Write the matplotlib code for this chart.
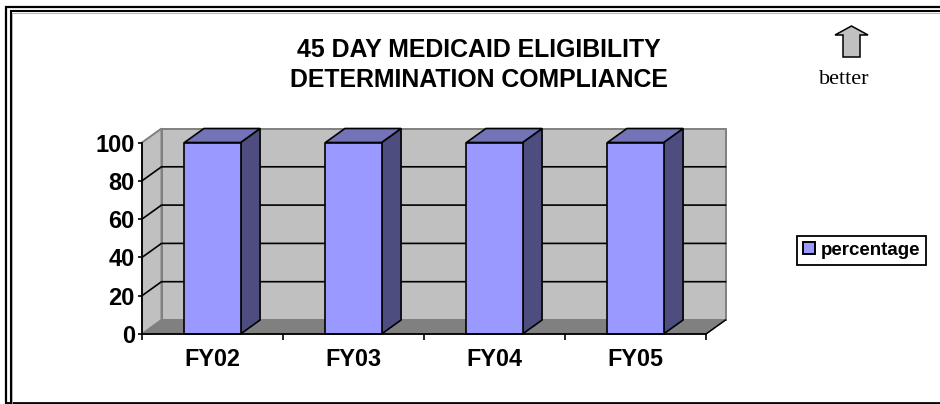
import matplotlib
matplotlib.use("Agg")
import matplotlib.pyplot as plt
from matplotlib.patches import Polygon, Patch
from matplotlib.lines import Line2D

categories = ["FY02", "FY03", "FY04", "FY05"]
percentage = [100, 100, 100, 100]
yticks = [0, 20, 40, 60, 80, 100]
series_name = "percentage"
title = "45 DAY MEDICAID ELIGIBILITY\nDETERMINATION COMPLIANCE"

W, H = 940, 404
plt.rcParams["font.family"] = ["Liberation Sans", "DejaVu Sans"]
fig = plt.figure(figsize=(W / 100, H / 100), dpi=100, facecolor="white")

# page layer in pixel coordinates (decorations)
bg = fig.add_axes([0, 0, 1, 1], zorder=0)
bg.set_xlim(0, W); bg.set_ylim(H, 0); bg.axis("off")
for xs, ys, lw in [
    ([6, 6, 940], [403, 6.5, 6.5], 1.6),
    ([10.5, 10.5, 940], [403, 11, 11], 1.5),
    ([6, 940], [403, 403], 2.0),
]:
    bg.add_line(Line2D(xs, ys, color="black", lw=lw, solid_joinstyle="miter"))
bg.add_line(Line2D([12.3, 12.3, 940], [403, 12.6, 12.6], color="#a8a8a8", lw=0.6))
bg.add_patch(Polygon([(851.5, 26), (868, 35), (860, 35), (860, 57), (843, 57), (843, 35), (835, 35)],
                     closed=True, fc="#c0c0c0", ec="black", lw=1.1))
bg.text(844.5, 80, "better", family="Liberation Serif", fontsize=16, ha="center", va="center")
bg.text(478.5, 65, title, fontsize=17.95, fontweight="bold", ha="center", va="center",
        linespacing=1.29)

# chart
L, R, B, T = 142, 706, 334, 142.5
ax = fig.add_axes([L / W, 1 - B / H, (R - L) / W, (B - T) / H], zorder=1)
ax.set_xlim(-0.5, len(categories) - 0.5)
ax.set_ylim(0, 100)
ax.patch.set_visible(False)
for s in ("top", "right"):
    ax.spines[s].set_visible(False)
for s in ("left", "bottom"):
    ax.spines[s].set_linewidth(1.3)
    ax.spines[s].set_zorder(6)

dx = 19.5 / ((R - L) / len(categories))   # depth in category units
dy = 14 * 100 / (B - T)                   # depth in value units
x0, x1 = -0.5, len(categories) - 0.5
kw = dict(closed=True, clip_on=False)
# walls and floor
ax.add_patch(Polygon([(x0 + dx, dy), (x1 + dx, dy), (x1 + dx, 100 + dy), (x0 + dx, 100 + dy)],
                     fc="#c0c0c0", ec="#808080", lw=1.4, zorder=1, **kw))
ax.add_patch(Polygon([(x0, 0), (x0 + dx, dy), (x0 + dx, 100 + dy), (x0, 100)],
                     fc="#c0c0c0", ec="#808080", lw=1.4, zorder=1, **kw))
ax.add_patch(Polygon([(x0, 0), (x1, 0), (x1 + dx, dy), (x0 + dx, dy)],
                     fc="#808080", ec="#808080", lw=0.8, zorder=1.5, **kw))
ax.plot([x1, x1 + dx], [0, dy], color="black", lw=1.1, clip_on=False, zorder=2)
# gridlines on the side and back wall
for v in yticks[1:-1]:
    ax.plot([x0, x0 + dx, x1 + dx], [v, v + dy, v + dy], color="black", lw=1.2,
            clip_on=False, zorder=2, solid_joinstyle="miter")
# bars
half = 0.199
for i, v in enumerate(percentage):
    a, b = i - half, i + half
    ax.add_patch(Polygon([(b, 0), (b + dx, dy), (b + dx, v + dy), (b, v)],
                         fc="#4d4d80", ec="black", lw=1.2, zorder=3, **kw))
    ax.add_patch(Polygon([(a, v), (b, v), (b + dx, v + dy), (a + dx, v + dy)],
                         fc="#7373b8", ec="black", lw=1.2, zorder=3, **kw))
    ax.bar(i, v, width=2 * half, color="#9999ff", edgecolor="black", linewidth=1.2,
           zorder=4, clip_on=False)

ax.set_yticks(yticks)
ax.set_xticks([k - 0.5 for k in range(len(categories) + 1)], minor=False, labels=[""] * 5)
ax.set_xticks(range(len(categories)), labels=categories, minor=True)
ax.tick_params(axis="x", which="major", length=4, width=1.2, direction="out")
ax.tick_params(axis="x", which="minor", length=0, pad=10, labelsize=16.8)
ax.tick_params(axis="y", length=3, width=1.2, direction="out", pad=2.2, labelsize=17)
for lab in ax.get_xticklabels(minor=True) + ax.get_yticklabels():
    lab.set_fontweight("bold")

leg = ax.legend(handles=[Patch(fc="#9999ff", ec="black", lw=1.4, label=series_name)],
                loc="center left", bbox_to_anchor=(797 / W, 1 - 250.5 / H),
                bbox_transform=fig.transFigure, frameon=True, fancybox=False,
                edgecolor="black", framealpha=1, borderpad=0.3, handlelength=0.68,
                handleheight=0.62, handletextpad=0.3, borderaxespad=0,
                prop={"weight": "bold", "size": 13.5})
leg.get_frame().set_linewidth(1.3)

fig.savefig("out.png", dpi=100)
